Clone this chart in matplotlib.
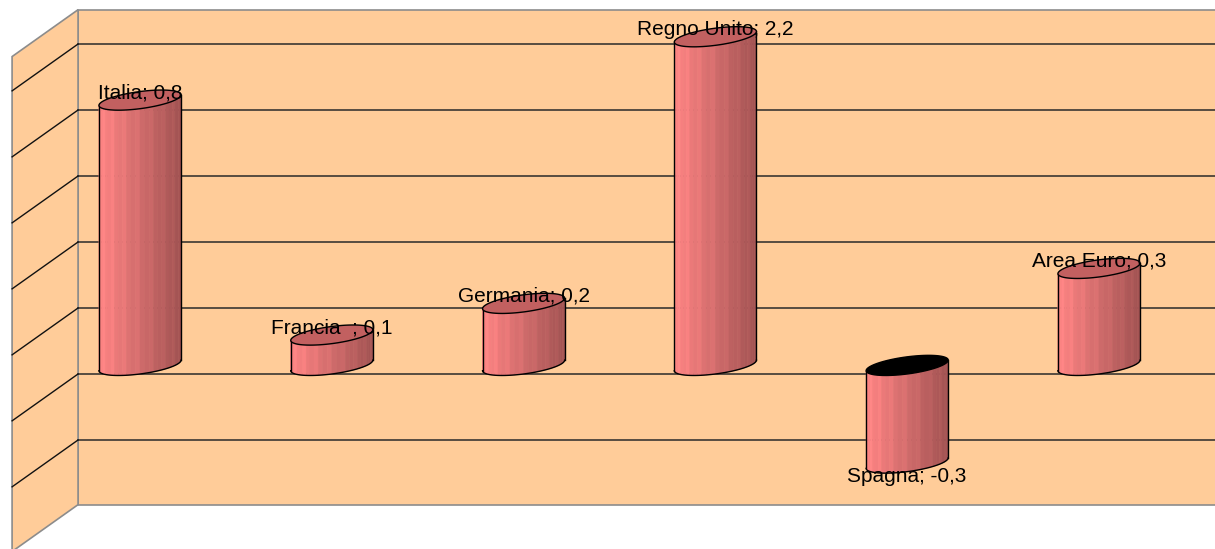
import numpy as np
import matplotlib.pyplot as plt
from matplotlib.patches import Polygon

# data
countries = ["Italia", "Francia  ", "Germania", "Regno Unito", "Spagna", "Area Euro"]
label_values = ["0,8", "0,1", "0,2", "2,2", "-0,3", "0,3"]
bar_heights = [4.02, 0.46, 0.94, 4.98, -1.48, 1.47]   # in gridline steps
grid_levels = [-1, 0, 1, 2, 3, 4, 5]

# chart geometry (in axis units: x = category index, y = gridline step)
wall_bottom, wall_top = -1.98, 5.52
wall_left = -0.323
depth_dx, depth_dy = 0.344, 0.71
ell_a, ell_b, ell_s = 0.214, 0.13, 0.08

WALL = "#FFCC99"
EDGE = "#8c8c8c"
LEFT_RGB = np.array([255, 132, 132]) / 255
RIGHT_RGB = np.array([160, 82, 82]) / 255
TOP_COLOR = "#C26060"

fig = plt.figure(figsize=(12.15, 5.49), dpi=100)
ax = fig.add_axes([0, 0, 1, 1])
ax.set_xlim(-0.73, 5.605)
ax.set_ylim(-2.652, 5.667)
ax.axis("off")

# back wall
xr = 6.0
ax.add_patch(Polygon([(wall_left, wall_bottom), (wall_left, wall_top), (xr, wall_top), (xr, wall_bottom)],
                     closed=True, fc=WALL, ec=EDGE, lw=1.2, zorder=1))
# side wall
xl = wall_left - depth_dx
ax.add_patch(Polygon([(wall_left, wall_bottom), (wall_left, wall_top),
                      (xl, wall_top - depth_dy), (xl, wall_bottom - depth_dy)],
                     closed=True, fc=WALL, ec=EDGE, lw=1.2, zorder=1))

for g in grid_levels:
    ax.plot([wall_left, xr], [g, g], color="#2a2a2a", lw=1.1, zorder=2)
    ax.plot([wall_left, xl], [g, g - depth_dy], color="#111111", lw=1.0, zorder=2)


def ring(cx, cy, t):
    return cx + ell_a * np.cos(t), cy + ell_b * np.sin(t) + ell_s * np.cos(t)


def cylinder(cx, y_lo, y_hi, top_color):
    n = 28
    ts = np.linspace(np.pi, 2 * np.pi, n + 1)
    for k, (t0, t1) in enumerate(zip(ts[:-1], ts[1:])):
        x0, yt0 = ring(cx, y_hi, t0)
        x1, yt1 = ring(cx, y_hi, t1)
        _, yb0 = ring(cx, y_lo, t0)
        _, yb1 = ring(cx, y_lo, t1)
        frac = (np.cos((t0 + t1) / 2) + 1) / 2
        col = LEFT_RGB * (1 - frac) + RIGHT_RGB * frac
        if k % 3 == 1:
            col = np.clip(col * 1.04, 0, 1)
        ax.add_patch(Polygon([(x0, yt0), (x1, yt1), (x1, yb1), (x0, yb0)],
                             closed=True, fc=col, ec=col, lw=0.4, zorder=3))
    # outline of body
    tf = np.linspace(np.pi, 2 * np.pi, 80)
    bx, by = ring(cx, y_lo, tf)
    ax.plot(bx, by, color="black", lw=1.0, zorder=4)
    lx, ly_lo = ring(cx, y_lo, np.pi)
    _, ly_hi = ring(cx, y_hi, np.pi)
    rx, ry_lo = ring(cx, y_lo, 0.0)
    _, ry_hi = ring(cx, y_hi, 0.0)
    ax.plot([lx, lx], [ly_lo, ly_hi], color="black", lw=1.0, zorder=4)
    ax.plot([rx, rx], [ry_lo, ry_hi], color="black", lw=1.0, zorder=4)
    # top cap
    tt = np.linspace(0, 2 * np.pi, 120)
    tx, ty = ring(cx, y_hi, tt)
    ax.add_patch(Polygon(np.column_stack([tx, ty]), closed=True, fc=top_color,
                         ec="black", lw=1.0, zorder=5))


for i, (name, lab, h) in enumerate(zip(countries, label_values, bar_heights)):
    if h >= 0:
        cylinder(i, ell_b, h + ell_b, TOP_COLOR)
        ax.text(i, h + ell_b + 0.11, f"{name}; {lab}", ha="center", va="center",
                fontsize=15, family="Liberation Sans", zorder=6)
    else:
        cylinder(i, h + ell_b, ell_b, "black")
        ax.text(i, h + ell_b - 0.2, f"{name}; {lab}", ha="center", va="center",
                fontsize=15, family="Liberation Sans", zorder=6)

fig.savefig("out.png", dpi=100)
